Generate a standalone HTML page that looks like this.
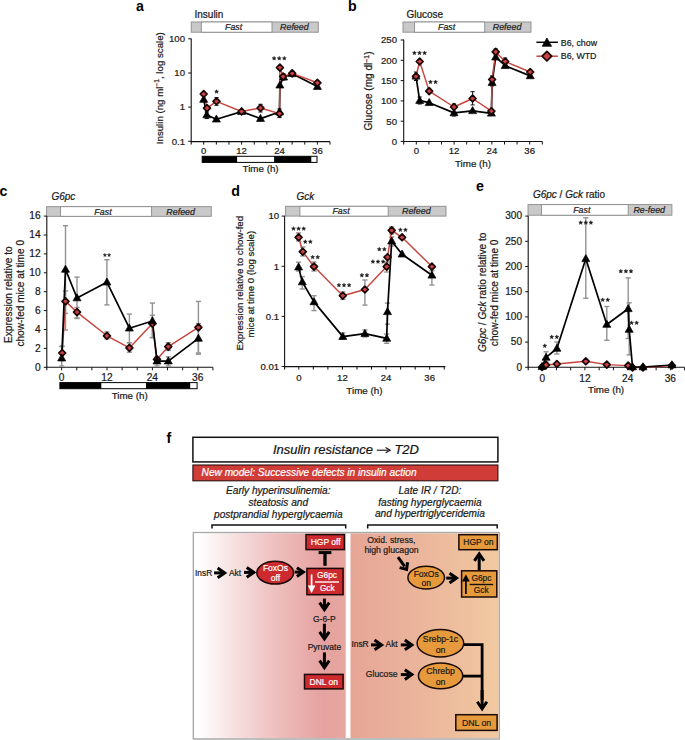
<!DOCTYPE html>
<html><head><meta charset="utf-8"><style>
html,body{margin:0;padding:0;background:#fff;}
svg{display:block;font-family:"Liberation Sans", sans-serif;}
</style></head><body>
<svg width="685" height="740" viewBox="0 0 685 740">
<rect width="685" height="740" fill="#fff"/>
<text x="136.10" y="10.70" font-size="14.2" text-anchor="start" font-style="normal" font-weight="bold" fill="#000" stroke="#000" stroke-width="0" >a</text>
<text x="194.50" y="18.30" font-size="10.0" text-anchor="start" font-style="normal" font-weight="normal" fill="#1a1a1a" stroke="#1a1a1a" stroke-width="0.22" >Insulin</text>
<rect x="191.20" y="22.00" width="127.10" height="10.20" fill="#c9c9c9" stroke="#8a8a8a" stroke-width="0.9" />
<rect x="201.30" y="22.00" width="70.70" height="10.20" fill="#ffffff" stroke="#8a8a8a" stroke-width="0.9" />
<text x="233.65" y="30.10" font-size="8.9" text-anchor="middle" font-style="italic" font-weight="normal" fill="#222" stroke="#222" stroke-width="0.22" >Fast</text>
<text x="294.35" y="30.10" font-size="8.9" text-anchor="middle" font-style="italic" font-weight="normal" fill="#222" stroke="#222" stroke-width="0.22" >Refeed</text>
<line x1="191.20" y1="38.40" x2="191.20" y2="144.60" stroke="#111" stroke-width="1.1" />
<line x1="190.70" y1="141.60" x2="330.00" y2="141.60" stroke="#111" stroke-width="1.1" />
<line x1="188.20" y1="38.80" x2="191.20" y2="38.80" stroke="#111" stroke-width="1.0" />
<text x="185.00" y="42.10" font-size="9.6" text-anchor="end" font-style="normal" font-weight="normal" fill="#1a1a1a" stroke="#1a1a1a" stroke-width="0.22" >100</text>
<line x1="188.20" y1="73.00" x2="191.20" y2="73.00" stroke="#111" stroke-width="1.0" />
<text x="185.00" y="76.30" font-size="9.6" text-anchor="end" font-style="normal" font-weight="normal" fill="#1a1a1a" stroke="#1a1a1a" stroke-width="0.22" >10</text>
<line x1="188.20" y1="107.10" x2="191.20" y2="107.10" stroke="#111" stroke-width="1.0" />
<text x="185.00" y="110.40" font-size="9.6" text-anchor="end" font-style="normal" font-weight="normal" fill="#1a1a1a" stroke="#1a1a1a" stroke-width="0.22" >1</text>
<line x1="188.20" y1="141.30" x2="191.20" y2="141.30" stroke="#111" stroke-width="1.0" />
<text x="185.00" y="144.60" font-size="9.6" text-anchor="end" font-style="normal" font-weight="normal" fill="#1a1a1a" stroke="#1a1a1a" stroke-width="0.22" >0.1</text>
<line x1="203.70" y1="141.60" x2="203.70" y2="144.60" stroke="#111" stroke-width="1.0" />
<text x="203.70" y="154.30" font-size="9.6" text-anchor="middle" font-style="normal" font-weight="normal" fill="#1a1a1a" stroke="#1a1a1a" stroke-width="0.22" >0</text>
<line x1="241.60" y1="141.60" x2="241.60" y2="144.60" stroke="#111" stroke-width="1.0" />
<text x="241.60" y="154.30" font-size="9.6" text-anchor="middle" font-style="normal" font-weight="normal" fill="#1a1a1a" stroke="#1a1a1a" stroke-width="0.22" >12</text>
<line x1="279.49" y1="141.60" x2="279.49" y2="144.60" stroke="#111" stroke-width="1.0" />
<text x="279.49" y="154.30" font-size="9.6" text-anchor="middle" font-style="normal" font-weight="normal" fill="#1a1a1a" stroke="#1a1a1a" stroke-width="0.22" >24</text>
<line x1="317.39" y1="141.60" x2="317.39" y2="144.60" stroke="#111" stroke-width="1.0" />
<text x="317.39" y="154.30" font-size="9.6" text-anchor="middle" font-style="normal" font-weight="normal" fill="#1a1a1a" stroke="#1a1a1a" stroke-width="0.22" >36</text>
<line x1="216.33" y1="141.60" x2="216.33" y2="144.60" stroke="#111" stroke-width="1.0" />
<line x1="228.96" y1="141.60" x2="228.96" y2="144.60" stroke="#111" stroke-width="1.0" />
<line x1="254.23" y1="141.60" x2="254.23" y2="144.60" stroke="#111" stroke-width="1.0" />
<line x1="266.86" y1="141.60" x2="266.86" y2="144.60" stroke="#111" stroke-width="1.0" />
<line x1="292.12" y1="141.60" x2="292.12" y2="144.60" stroke="#111" stroke-width="1.0" />
<line x1="304.76" y1="141.60" x2="304.76" y2="144.60" stroke="#111" stroke-width="1.0" />
<line x1="330.02" y1="141.60" x2="330.02" y2="144.60" stroke="#111" stroke-width="1.0" />
<rect x="202.20" y="156.30" width="114.80" height="6.10" fill="#fff" stroke="#000" stroke-width="1.0" />
<rect x="202.20" y="156.30" width="34.90" height="6.10" fill="#000" stroke="none" stroke-width="1.0" />
<rect x="274.10" y="156.30" width="37.20" height="6.10" fill="#000" stroke="none" stroke-width="1.0" />
<text x="260.60" y="172.30" font-size="9.8" text-anchor="middle" font-style="normal" font-weight="normal" fill="#1a1a1a" stroke="#1a1a1a" stroke-width="0.22" >Time (h)</text>
<text x="163.00" y="88.20" font-size="9.7" text-anchor="middle" font-style="normal" fill="#1a1a1a" stroke="#1a1a1a" stroke-width="0.22" transform="rotate(-90 163.00 88.20)">Insulin (ng ml<tspan font-size="6.6" dy="-3.6">−1</tspan><tspan dy="3.6">, log scale)</tspan></text>
<line x1="216.50" y1="97.60" x2="216.50" y2="105.30" stroke="#111" stroke-width="1.0" />
<line x1="214.40" y1="97.60" x2="218.60" y2="97.60" stroke="#111" stroke-width="1.0" />
<line x1="214.40" y1="105.30" x2="218.60" y2="105.30" stroke="#111" stroke-width="1.0" />
<line x1="260.50" y1="104.30" x2="260.50" y2="112.00" stroke="#111" stroke-width="1.0" />
<line x1="258.40" y1="104.30" x2="262.60" y2="104.30" stroke="#111" stroke-width="1.0" />
<line x1="258.40" y1="112.00" x2="262.60" y2="112.00" stroke="#111" stroke-width="1.0" />
<line x1="279.50" y1="109.00" x2="279.50" y2="117.60" stroke="#111" stroke-width="1.0" />
<line x1="277.40" y1="109.00" x2="281.60" y2="109.00" stroke="#111" stroke-width="1.0" />
<line x1="277.40" y1="117.60" x2="281.60" y2="117.60" stroke="#111" stroke-width="1.0" />
<line x1="283.60" y1="74.00" x2="283.60" y2="80.00" stroke="#111" stroke-width="1.0" />
<line x1="281.50" y1="74.00" x2="285.70" y2="74.00" stroke="#111" stroke-width="1.0" />
<line x1="281.50" y1="80.00" x2="285.70" y2="80.00" stroke="#111" stroke-width="1.0" />
<line x1="206.80" y1="112.00" x2="206.80" y2="118.60" stroke="#111" stroke-width="1.0" />
<line x1="204.70" y1="112.00" x2="208.90" y2="112.00" stroke="#111" stroke-width="1.0" />
<line x1="204.70" y1="118.60" x2="208.90" y2="118.60" stroke="#111" stroke-width="1.0" />
<line x1="292.20" y1="71.00" x2="292.20" y2="76.50" stroke="#111" stroke-width="1.0" />
<line x1="290.10" y1="71.00" x2="294.30" y2="71.00" stroke="#111" stroke-width="1.0" />
<line x1="290.10" y1="76.50" x2="294.30" y2="76.50" stroke="#111" stroke-width="1.0" />
<polyline points="203.70,99.50 206.80,115.00 216.40,119.20 241.60,111.60 260.50,118.60 279.50,112.00 279.90,85.20 283.60,77.20 292.20,73.80 317.40,86.60" fill="none" stroke="#000" stroke-width="1.7" stroke-linejoin="round"/>
<polyline points="203.70,94.00 207.00,108.10 216.50,101.30 241.60,111.50 260.50,108.00 279.50,113.60 279.90,67.60 283.10,76.50 292.20,73.40 317.40,82.80" fill="none" stroke="#c8453e" stroke-width="1.45" stroke-linejoin="round"/>
<path d="M203.70 95.28 L207.70 102.32 L199.70 102.32 Z" fill="#000" stroke="#000" stroke-width="0.7" stroke-linejoin="miter"/>
<path d="M206.80 110.78 L210.80 117.82 L202.80 117.82 Z" fill="#000" stroke="#000" stroke-width="0.7" stroke-linejoin="miter"/>
<path d="M216.40 114.98 L220.40 122.02 L212.40 122.02 Z" fill="#000" stroke="#000" stroke-width="0.7" stroke-linejoin="miter"/>
<path d="M241.60 107.38 L245.60 114.42 L237.60 114.42 Z" fill="#000" stroke="#000" stroke-width="0.7" stroke-linejoin="miter"/>
<path d="M260.50 114.38 L264.50 121.42 L256.50 121.42 Z" fill="#000" stroke="#000" stroke-width="0.7" stroke-linejoin="miter"/>
<path d="M279.50 107.78 L283.50 114.82 L275.50 114.82 Z" fill="#000" stroke="#000" stroke-width="0.7" stroke-linejoin="miter"/>
<path d="M279.90 80.98 L283.90 88.02 L275.90 88.02 Z" fill="#000" stroke="#000" stroke-width="0.7" stroke-linejoin="miter"/>
<path d="M283.60 72.98 L287.60 80.02 L279.60 80.02 Z" fill="#000" stroke="#000" stroke-width="0.7" stroke-linejoin="miter"/>
<path d="M292.20 69.58 L296.20 76.62 L288.20 76.62 Z" fill="#000" stroke="#000" stroke-width="0.7" stroke-linejoin="miter"/>
<path d="M317.40 82.38 L321.40 89.42 L313.40 89.42 Z" fill="#000" stroke="#000" stroke-width="0.7" stroke-linejoin="miter"/>
<path d="M203.70 90.55 L207.15 94.00 L203.70 97.45 L200.25 94.00 Z" fill="#cb4245" stroke="#1a0505" stroke-width="1.7" stroke-linejoin="round"/>
<path d="M207.00 104.65 L210.45 108.10 L207.00 111.55 L203.55 108.10 Z" fill="#cb4245" stroke="#1a0505" stroke-width="1.7" stroke-linejoin="round"/>
<path d="M216.50 97.85 L219.95 101.30 L216.50 104.75 L213.05 101.30 Z" fill="#cb4245" stroke="#1a0505" stroke-width="1.7" stroke-linejoin="round"/>
<path d="M241.60 108.05 L245.05 111.50 L241.60 114.95 L238.15 111.50 Z" fill="#cb4245" stroke="#1a0505" stroke-width="1.7" stroke-linejoin="round"/>
<path d="M260.50 104.55 L263.95 108.00 L260.50 111.45 L257.05 108.00 Z" fill="#cb4245" stroke="#1a0505" stroke-width="1.7" stroke-linejoin="round"/>
<path d="M279.50 110.15 L282.95 113.60 L279.50 117.05 L276.05 113.60 Z" fill="#cb4245" stroke="#1a0505" stroke-width="1.7" stroke-linejoin="round"/>
<path d="M279.90 64.15 L283.35 67.60 L279.90 71.05 L276.45 67.60 Z" fill="#cb4245" stroke="#1a0505" stroke-width="1.7" stroke-linejoin="round"/>
<path d="M283.10 73.05 L286.55 76.50 L283.10 79.95 L279.65 76.50 Z" fill="#cb4245" stroke="#1a0505" stroke-width="1.7" stroke-linejoin="round"/>
<path d="M292.20 69.95 L295.65 73.40 L292.20 76.85 L288.75 73.40 Z" fill="#cb4245" stroke="#1a0505" stroke-width="1.7" stroke-linejoin="round"/>
<path d="M317.40 79.35 L320.85 82.80 L317.40 86.25 L313.95 82.80 Z" fill="#cb4245" stroke="#1a0505" stroke-width="1.7" stroke-linejoin="round"/>
<path d="M216.60,89.65 L217.12,90.99 L218.55,91.07 L217.44,91.97 L217.80,93.36 L216.60,92.58 L215.40,93.36 L215.76,91.97 L214.65,91.07 L216.08,90.99 Z" fill="#1a1a1a" stroke="#1a1a1a" stroke-width="0.5" stroke-linejoin="round"/>
<path d="M274.10,56.35 L274.62,57.69 L276.05,57.77 L274.94,58.67 L275.30,60.06 L274.10,59.28 L272.90,60.06 L273.26,58.67 L272.15,57.77 L273.58,57.69 Z M279.20,56.35 L279.72,57.69 L281.15,57.77 L280.04,58.67 L280.40,60.06 L279.20,59.28 L278.00,60.06 L278.36,58.67 L277.25,57.77 L278.68,57.69 Z M284.30,56.35 L284.82,57.69 L286.25,57.77 L285.14,58.67 L285.50,60.06 L284.30,59.28 L283.10,60.06 L283.46,58.67 L282.35,57.77 L283.78,57.69 Z" fill="#1a1a1a" stroke="#1a1a1a" stroke-width="0.5" stroke-linejoin="round"/>
<text x="348.00" y="10.70" font-size="14.2" text-anchor="start" font-style="normal" font-weight="bold" fill="#000" stroke="#000" stroke-width="0" >b</text>
<text x="406.50" y="18.30" font-size="10.0" text-anchor="start" font-style="normal" font-weight="normal" fill="#1a1a1a" stroke="#1a1a1a" stroke-width="0.22" >Glucose</text>
<rect x="403.00" y="22.00" width="128.00" height="10.20" fill="#c9c9c9" stroke="#8a8a8a" stroke-width="0.9" />
<rect x="414.60" y="22.00" width="70.10" height="10.20" fill="#ffffff" stroke="#8a8a8a" stroke-width="0.9" />
<text x="446.65" y="30.10" font-size="8.9" text-anchor="middle" font-style="italic" font-weight="normal" fill="#222" stroke="#222" stroke-width="0.22" >Fast</text>
<text x="507.05" y="30.10" font-size="8.9" text-anchor="middle" font-style="italic" font-weight="normal" fill="#222" stroke="#222" stroke-width="0.22" >Refeed</text>
<line x1="403.70" y1="39.60" x2="403.70" y2="144.50" stroke="#111" stroke-width="1.1" />
<line x1="403.20" y1="141.50" x2="542.30" y2="141.50" stroke="#111" stroke-width="1.1" />
<line x1="400.70" y1="40.00" x2="403.70" y2="40.00" stroke="#111" stroke-width="1.0" />
<text x="397.00" y="43.30" font-size="9.6" text-anchor="end" font-style="normal" font-weight="normal" fill="#1a1a1a" stroke="#1a1a1a" stroke-width="0.22" >250</text>
<line x1="400.70" y1="60.30" x2="403.70" y2="60.30" stroke="#111" stroke-width="1.0" />
<text x="397.00" y="63.60" font-size="9.6" text-anchor="end" font-style="normal" font-weight="normal" fill="#1a1a1a" stroke="#1a1a1a" stroke-width="0.22" >200</text>
<line x1="400.70" y1="80.60" x2="403.70" y2="80.60" stroke="#111" stroke-width="1.0" />
<text x="397.00" y="83.90" font-size="9.6" text-anchor="end" font-style="normal" font-weight="normal" fill="#1a1a1a" stroke="#1a1a1a" stroke-width="0.22" >150</text>
<line x1="400.70" y1="100.90" x2="403.70" y2="100.90" stroke="#111" stroke-width="1.0" />
<text x="397.00" y="104.20" font-size="9.6" text-anchor="end" font-style="normal" font-weight="normal" fill="#1a1a1a" stroke="#1a1a1a" stroke-width="0.22" >100</text>
<line x1="400.70" y1="121.20" x2="403.70" y2="121.20" stroke="#111" stroke-width="1.0" />
<text x="397.00" y="124.50" font-size="9.6" text-anchor="end" font-style="normal" font-weight="normal" fill="#1a1a1a" stroke="#1a1a1a" stroke-width="0.22" >50</text>
<line x1="400.70" y1="141.40" x2="403.70" y2="141.40" stroke="#111" stroke-width="1.0" />
<text x="397.00" y="144.70" font-size="9.6" text-anchor="end" font-style="normal" font-weight="normal" fill="#1a1a1a" stroke="#1a1a1a" stroke-width="0.22" >0</text>
<line x1="416.30" y1="141.50" x2="416.30" y2="144.50" stroke="#111" stroke-width="1.0" />
<text x="416.30" y="154.30" font-size="9.6" text-anchor="middle" font-style="normal" font-weight="normal" fill="#1a1a1a" stroke="#1a1a1a" stroke-width="0.22" >0</text>
<line x1="454.10" y1="141.50" x2="454.10" y2="144.50" stroke="#111" stroke-width="1.0" />
<text x="454.10" y="154.30" font-size="9.6" text-anchor="middle" font-style="normal" font-weight="normal" fill="#1a1a1a" stroke="#1a1a1a" stroke-width="0.22" >12</text>
<line x1="491.90" y1="141.50" x2="491.90" y2="144.50" stroke="#111" stroke-width="1.0" />
<text x="491.90" y="154.30" font-size="9.6" text-anchor="middle" font-style="normal" font-weight="normal" fill="#1a1a1a" stroke="#1a1a1a" stroke-width="0.22" >24</text>
<line x1="529.70" y1="141.50" x2="529.70" y2="144.50" stroke="#111" stroke-width="1.0" />
<text x="529.70" y="154.30" font-size="9.6" text-anchor="middle" font-style="normal" font-weight="normal" fill="#1a1a1a" stroke="#1a1a1a" stroke-width="0.22" >36</text>
<line x1="428.90" y1="141.50" x2="428.90" y2="144.50" stroke="#111" stroke-width="1.0" />
<line x1="441.50" y1="141.50" x2="441.50" y2="144.50" stroke="#111" stroke-width="1.0" />
<line x1="466.70" y1="141.50" x2="466.70" y2="144.50" stroke="#111" stroke-width="1.0" />
<line x1="479.30" y1="141.50" x2="479.30" y2="144.50" stroke="#111" stroke-width="1.0" />
<line x1="504.50" y1="141.50" x2="504.50" y2="144.50" stroke="#111" stroke-width="1.0" />
<line x1="517.10" y1="141.50" x2="517.10" y2="144.50" stroke="#111" stroke-width="1.0" />
<line x1="542.30" y1="141.50" x2="542.30" y2="144.50" stroke="#111" stroke-width="1.0" />
<text x="473.00" y="167.10" font-size="9.8" text-anchor="middle" font-style="normal" font-weight="normal" fill="#1a1a1a" stroke="#1a1a1a" stroke-width="0.22" >Time (h)</text>
<text x="372.40" y="91.00" font-size="10.1" text-anchor="middle" font-style="normal" fill="#1a1a1a" stroke="#1a1a1a" stroke-width="0.22" transform="rotate(-90 372.40 91.00)">Glucose (mg dl<tspan font-size="6.8" dy="-3.7">−1</tspan><tspan dy="3.7">)</tspan></text>
<line x1="472.60" y1="91.70" x2="472.60" y2="104.90" stroke="#111" stroke-width="1.0" />
<line x1="470.50" y1="91.70" x2="474.70" y2="91.70" stroke="#111" stroke-width="1.0" />
<line x1="470.50" y1="104.90" x2="474.70" y2="104.90" stroke="#111" stroke-width="1.0" />
<line x1="419.70" y1="97.00" x2="419.70" y2="104.00" stroke="#111" stroke-width="1.0" />
<line x1="417.60" y1="97.00" x2="421.80" y2="97.00" stroke="#111" stroke-width="1.0" />
<line x1="417.60" y1="104.00" x2="421.80" y2="104.00" stroke="#111" stroke-width="1.0" />
<line x1="416.00" y1="72.00" x2="416.00" y2="80.50" stroke="#111" stroke-width="1.0" />
<line x1="413.90" y1="72.00" x2="418.10" y2="72.00" stroke="#111" stroke-width="1.0" />
<line x1="413.90" y1="80.50" x2="418.10" y2="80.50" stroke="#111" stroke-width="1.0" />
<line x1="454.00" y1="104.00" x2="454.00" y2="116.00" stroke="#111" stroke-width="1.0" />
<line x1="451.90" y1="104.00" x2="456.10" y2="104.00" stroke="#111" stroke-width="1.0" />
<line x1="451.90" y1="116.00" x2="456.10" y2="116.00" stroke="#111" stroke-width="1.0" />
<line x1="492.10" y1="76.00" x2="492.10" y2="86.00" stroke="#111" stroke-width="1.0" />
<line x1="490.00" y1="76.00" x2="494.20" y2="76.00" stroke="#111" stroke-width="1.0" />
<line x1="490.00" y1="86.00" x2="494.20" y2="86.00" stroke="#111" stroke-width="1.0" />
<line x1="495.70" y1="49.00" x2="495.70" y2="55.00" stroke="#111" stroke-width="1.0" />
<line x1="493.60" y1="49.00" x2="497.80" y2="49.00" stroke="#111" stroke-width="1.0" />
<line x1="493.60" y1="55.00" x2="497.80" y2="55.00" stroke="#111" stroke-width="1.0" />
<line x1="505.20" y1="58.00" x2="505.20" y2="64.00" stroke="#111" stroke-width="1.0" />
<line x1="503.10" y1="58.00" x2="507.30" y2="58.00" stroke="#111" stroke-width="1.0" />
<line x1="503.10" y1="64.00" x2="507.30" y2="64.00" stroke="#111" stroke-width="1.0" />
<polyline points="416.00,76.30 419.70,100.60 429.20,102.70 454.00,112.90 472.60,110.80 491.40,113.30 492.10,82.60 495.70,57.20 505.20,65.70 530.20,75.90" fill="none" stroke="#000" stroke-width="1.7" stroke-linejoin="round"/>
<polyline points="416.00,76.30 419.70,61.50 429.20,91.10 454.00,107.00 472.60,98.50 491.40,111.20 492.10,79.50 495.70,51.90 505.20,61.50 530.20,72.00" fill="none" stroke="#c8453e" stroke-width="1.45" stroke-linejoin="round"/>
<path d="M416.00 72.08 L420.00 79.12 L412.00 79.12 Z" fill="#000" stroke="#000" stroke-width="0.7" stroke-linejoin="miter"/>
<path d="M419.70 96.38 L423.70 103.42 L415.70 103.42 Z" fill="#000" stroke="#000" stroke-width="0.7" stroke-linejoin="miter"/>
<path d="M429.20 98.48 L433.20 105.52 L425.20 105.52 Z" fill="#000" stroke="#000" stroke-width="0.7" stroke-linejoin="miter"/>
<path d="M454.00 108.68 L458.00 115.72 L450.00 115.72 Z" fill="#000" stroke="#000" stroke-width="0.7" stroke-linejoin="miter"/>
<path d="M472.60 106.58 L476.60 113.62 L468.60 113.62 Z" fill="#000" stroke="#000" stroke-width="0.7" stroke-linejoin="miter"/>
<path d="M491.40 109.08 L495.40 116.12 L487.40 116.12 Z" fill="#000" stroke="#000" stroke-width="0.7" stroke-linejoin="miter"/>
<path d="M492.10 78.38 L496.10 85.42 L488.10 85.42 Z" fill="#000" stroke="#000" stroke-width="0.7" stroke-linejoin="miter"/>
<path d="M495.70 52.98 L499.70 60.02 L491.70 60.02 Z" fill="#000" stroke="#000" stroke-width="0.7" stroke-linejoin="miter"/>
<path d="M505.20 61.48 L509.20 68.52 L501.20 68.52 Z" fill="#000" stroke="#000" stroke-width="0.7" stroke-linejoin="miter"/>
<path d="M530.20 71.68 L534.20 78.72 L526.20 78.72 Z" fill="#000" stroke="#000" stroke-width="0.7" stroke-linejoin="miter"/>
<path d="M416.00 72.85 L419.45 76.30 L416.00 79.75 L412.55 76.30 Z" fill="#cb4245" stroke="#1a0505" stroke-width="1.7" stroke-linejoin="round"/>
<path d="M419.70 58.05 L423.15 61.50 L419.70 64.95 L416.25 61.50 Z" fill="#cb4245" stroke="#1a0505" stroke-width="1.7" stroke-linejoin="round"/>
<path d="M429.20 87.65 L432.65 91.10 L429.20 94.55 L425.75 91.10 Z" fill="#cb4245" stroke="#1a0505" stroke-width="1.7" stroke-linejoin="round"/>
<path d="M454.00 103.55 L457.45 107.00 L454.00 110.45 L450.55 107.00 Z" fill="#cb4245" stroke="#1a0505" stroke-width="1.7" stroke-linejoin="round"/>
<path d="M472.60 95.05 L476.05 98.50 L472.60 101.95 L469.15 98.50 Z" fill="#cb4245" stroke="#1a0505" stroke-width="1.7" stroke-linejoin="round"/>
<path d="M491.40 107.75 L494.85 111.20 L491.40 114.65 L487.95 111.20 Z" fill="#cb4245" stroke="#1a0505" stroke-width="1.7" stroke-linejoin="round"/>
<path d="M492.10 76.05 L495.55 79.50 L492.10 82.95 L488.65 79.50 Z" fill="#cb4245" stroke="#1a0505" stroke-width="1.7" stroke-linejoin="round"/>
<path d="M495.70 48.45 L499.15 51.90 L495.70 55.35 L492.25 51.90 Z" fill="#cb4245" stroke="#1a0505" stroke-width="1.7" stroke-linejoin="round"/>
<path d="M505.20 58.05 L508.65 61.50 L505.20 64.95 L501.75 61.50 Z" fill="#cb4245" stroke="#1a0505" stroke-width="1.7" stroke-linejoin="round"/>
<path d="M530.20 68.55 L533.65 72.00 L530.20 75.45 L526.75 72.00 Z" fill="#cb4245" stroke="#1a0505" stroke-width="1.7" stroke-linejoin="round"/>
<path d="M414.40,50.95 L414.92,52.29 L416.35,52.37 L415.24,53.27 L415.60,54.66 L414.40,53.88 L413.20,54.66 L413.56,53.27 L412.45,52.37 L413.88,52.29 Z M419.50,50.95 L420.02,52.29 L421.45,52.37 L420.34,53.27 L420.70,54.66 L419.50,53.88 L418.30,54.66 L418.66,53.27 L417.55,52.37 L418.98,52.29 Z M424.60,50.95 L425.12,52.29 L426.55,52.37 L425.44,53.27 L425.80,54.66 L424.60,53.88 L423.40,54.66 L423.76,53.27 L422.65,52.37 L424.08,52.29 Z" fill="#1a1a1a" stroke="#1a1a1a" stroke-width="0.5" stroke-linejoin="round"/>
<path d="M430.45,79.95 L430.97,81.29 L432.40,81.37 L431.29,82.27 L431.65,83.66 L430.45,82.88 L429.25,83.66 L429.61,82.27 L428.50,81.37 L429.93,81.29 Z M435.55,79.95 L436.07,81.29 L437.50,81.37 L436.39,82.27 L436.75,83.66 L435.55,82.88 L434.35,83.66 L434.71,82.27 L433.60,81.37 L435.03,81.29 Z" fill="#1a1a1a" stroke="#1a1a1a" stroke-width="0.5" stroke-linejoin="round"/>
<line x1="536.40" y1="42.30" x2="557.90" y2="42.30" stroke="#000" stroke-width="1.5" />
<path d="M546.90 37.98 L551.65 46.34 L542.15 46.34 Z" fill="#000" stroke="#000" stroke-width="0.7" stroke-linejoin="miter"/>
<text x="560.80" y="45.50" font-size="8.8" text-anchor="start" font-style="normal" font-weight="normal" fill="#1a1a1a" stroke="#1a1a1a" stroke-width="0.22" >B6, chow</text>
<line x1="536.40" y1="56.20" x2="557.90" y2="56.20" stroke="#c8453e" stroke-width="1.5" />
<path d="M546.90 51.40 L551.70 56.20 L546.90 61.00 L542.10 56.20 Z" fill="#cb4245" stroke="#1a0505" stroke-width="1.7" stroke-linejoin="round"/>
<text x="560.80" y="59.40" font-size="8.8" text-anchor="start" font-style="normal" font-weight="normal" fill="#1a1a1a" stroke="#1a1a1a" stroke-width="0.22" >B6, WTD</text>
<text x="-0.40" y="195.70" font-size="14.2" text-anchor="start" font-style="normal" font-weight="bold" fill="#000" stroke="#000" stroke-width="0" >c</text>
<text x="51.40" y="200.00" font-size="10.0" text-anchor="start" font-style="italic" font-weight="normal" fill="#1a1a1a" stroke="#1a1a1a" stroke-width="0.22" >G6pc</text>
<rect x="46.60" y="206.70" width="164.70" height="9.60" fill="#c9c9c9" stroke="#8a8a8a" stroke-width="0.9" />
<rect x="60.40" y="206.70" width="91.20" height="9.60" fill="#ffffff" stroke="#8a8a8a" stroke-width="0.9" />
<text x="103.00" y="214.50" font-size="8.9" text-anchor="middle" font-style="italic" font-weight="normal" fill="#222" stroke="#222" stroke-width="0.22" >Fast</text>
<text x="180.65" y="214.50" font-size="8.9" text-anchor="middle" font-style="italic" font-weight="normal" fill="#222" stroke="#222" stroke-width="0.22" >Refeed</text>
<line x1="46.80" y1="215.90" x2="46.80" y2="370.30" stroke="#111" stroke-width="1.1" />
<line x1="46.30" y1="367.30" x2="212.90" y2="367.30" stroke="#111" stroke-width="1.1" />
<line x1="43.80" y1="367.30" x2="46.80" y2="367.30" stroke="#111" stroke-width="1.0" />
<text x="40.60" y="370.60" font-size="10.2" text-anchor="end" font-style="normal" font-weight="normal" fill="#1a1a1a" stroke="#1a1a1a" stroke-width="0.22" >0</text>
<line x1="43.80" y1="348.40" x2="46.80" y2="348.40" stroke="#111" stroke-width="1.0" />
<text x="40.60" y="351.70" font-size="10.2" text-anchor="end" font-style="normal" font-weight="normal" fill="#1a1a1a" stroke="#1a1a1a" stroke-width="0.22" >2</text>
<line x1="43.80" y1="329.50" x2="46.80" y2="329.50" stroke="#111" stroke-width="1.0" />
<text x="40.60" y="332.80" font-size="10.2" text-anchor="end" font-style="normal" font-weight="normal" fill="#1a1a1a" stroke="#1a1a1a" stroke-width="0.22" >4</text>
<line x1="43.80" y1="310.60" x2="46.80" y2="310.60" stroke="#111" stroke-width="1.0" />
<text x="40.60" y="313.90" font-size="10.2" text-anchor="end" font-style="normal" font-weight="normal" fill="#1a1a1a" stroke="#1a1a1a" stroke-width="0.22" >6</text>
<line x1="43.80" y1="291.70" x2="46.80" y2="291.70" stroke="#111" stroke-width="1.0" />
<text x="40.60" y="295.00" font-size="10.2" text-anchor="end" font-style="normal" font-weight="normal" fill="#1a1a1a" stroke="#1a1a1a" stroke-width="0.22" >8</text>
<line x1="43.80" y1="272.80" x2="46.80" y2="272.80" stroke="#111" stroke-width="1.0" />
<text x="40.60" y="276.10" font-size="10.2" text-anchor="end" font-style="normal" font-weight="normal" fill="#1a1a1a" stroke="#1a1a1a" stroke-width="0.22" >10</text>
<line x1="43.80" y1="253.90" x2="46.80" y2="253.90" stroke="#111" stroke-width="1.0" />
<text x="40.60" y="257.20" font-size="10.2" text-anchor="end" font-style="normal" font-weight="normal" fill="#1a1a1a" stroke="#1a1a1a" stroke-width="0.22" >12</text>
<line x1="43.80" y1="235.00" x2="46.80" y2="235.00" stroke="#111" stroke-width="1.0" />
<text x="40.60" y="238.30" font-size="10.2" text-anchor="end" font-style="normal" font-weight="normal" fill="#1a1a1a" stroke="#1a1a1a" stroke-width="0.22" >14</text>
<line x1="43.80" y1="216.10" x2="46.80" y2="216.10" stroke="#111" stroke-width="1.0" />
<text x="40.60" y="219.40" font-size="10.2" text-anchor="end" font-style="normal" font-weight="normal" fill="#1a1a1a" stroke="#1a1a1a" stroke-width="0.22" >16</text>
<line x1="61.60" y1="367.30" x2="61.60" y2="370.30" stroke="#111" stroke-width="1.0" />
<text x="61.60" y="380.50" font-size="10.2" text-anchor="middle" font-style="normal" font-weight="normal" fill="#1a1a1a" stroke="#1a1a1a" stroke-width="0.22" >0</text>
<line x1="107.00" y1="367.30" x2="107.00" y2="370.30" stroke="#111" stroke-width="1.0" />
<text x="107.00" y="380.50" font-size="10.2" text-anchor="middle" font-style="normal" font-weight="normal" fill="#1a1a1a" stroke="#1a1a1a" stroke-width="0.22" >12</text>
<line x1="152.39" y1="367.30" x2="152.39" y2="370.30" stroke="#111" stroke-width="1.0" />
<text x="152.39" y="380.50" font-size="10.2" text-anchor="middle" font-style="normal" font-weight="normal" fill="#1a1a1a" stroke="#1a1a1a" stroke-width="0.22" >24</text>
<line x1="197.79" y1="367.30" x2="197.79" y2="370.30" stroke="#111" stroke-width="1.0" />
<text x="197.79" y="380.50" font-size="10.2" text-anchor="middle" font-style="normal" font-weight="normal" fill="#1a1a1a" stroke="#1a1a1a" stroke-width="0.22" >36</text>
<line x1="76.73" y1="367.30" x2="76.73" y2="370.30" stroke="#111" stroke-width="1.0" />
<line x1="91.86" y1="367.30" x2="91.86" y2="370.30" stroke="#111" stroke-width="1.0" />
<line x1="122.13" y1="367.30" x2="122.13" y2="370.30" stroke="#111" stroke-width="1.0" />
<line x1="137.26" y1="367.30" x2="137.26" y2="370.30" stroke="#111" stroke-width="1.0" />
<line x1="167.52" y1="367.30" x2="167.52" y2="370.30" stroke="#111" stroke-width="1.0" />
<line x1="182.66" y1="367.30" x2="182.66" y2="370.30" stroke="#111" stroke-width="1.0" />
<line x1="212.92" y1="367.30" x2="212.92" y2="370.30" stroke="#111" stroke-width="1.0" />
<rect x="59.90" y="382.60" width="137.20" height="6.10" fill="#fff" stroke="#000" stroke-width="1.0" />
<rect x="59.90" y="382.60" width="41.40" height="6.10" fill="#000" stroke="none" stroke-width="1.0" />
<rect x="146.00" y="382.60" width="44.20" height="6.10" fill="#000" stroke="none" stroke-width="1.0" />
<text x="129.70" y="398.60" font-size="9.8" text-anchor="middle" font-style="normal" font-weight="normal" fill="#1a1a1a" stroke="#1a1a1a" stroke-width="0.22" >Time (h)</text>
<text x="11.70" y="294.70" font-size="10.1" text-anchor="middle" font-style="normal" fill="#1a1a1a" stroke="#1a1a1a" stroke-width="0.22" transform="rotate(-90 11.70 294.70)">Expression relative to</text>
<text x="23.70" y="293.30" font-size="10.1" text-anchor="middle" font-style="normal" fill="#1a1a1a" stroke="#1a1a1a" stroke-width="0.22" transform="rotate(-90 23.70 293.30)">chow-fed mice at time 0</text>
<line x1="61.70" y1="346.60" x2="61.70" y2="366.00" stroke="#929292" stroke-width="1.4" />
<line x1="59.10" y1="346.60" x2="64.30" y2="346.60" stroke="#929292" stroke-width="1.4" />
<line x1="59.10" y1="366.00" x2="64.30" y2="366.00" stroke="#929292" stroke-width="1.4" />
<line x1="65.50" y1="225.70" x2="65.50" y2="330.00" stroke="#929292" stroke-width="1.4" />
<line x1="62.90" y1="225.70" x2="68.10" y2="225.70" stroke="#929292" stroke-width="1.4" />
<line x1="62.90" y1="330.00" x2="68.10" y2="330.00" stroke="#929292" stroke-width="1.4" />
<line x1="77.00" y1="277.10" x2="77.00" y2="318.50" stroke="#929292" stroke-width="1.4" />
<line x1="74.40" y1="277.10" x2="79.60" y2="277.10" stroke="#929292" stroke-width="1.4" />
<line x1="74.40" y1="318.50" x2="79.60" y2="318.50" stroke="#929292" stroke-width="1.4" />
<line x1="106.90" y1="259.70" x2="106.90" y2="304.90" stroke="#929292" stroke-width="1.4" />
<line x1="104.30" y1="259.70" x2="109.50" y2="259.70" stroke="#929292" stroke-width="1.4" />
<line x1="104.30" y1="304.90" x2="109.50" y2="304.90" stroke="#929292" stroke-width="1.4" />
<line x1="129.40" y1="314.10" x2="129.40" y2="342.70" stroke="#929292" stroke-width="1.4" />
<line x1="126.80" y1="314.10" x2="132.00" y2="314.10" stroke="#929292" stroke-width="1.4" />
<line x1="126.80" y1="342.70" x2="132.00" y2="342.70" stroke="#929292" stroke-width="1.4" />
<line x1="152.40" y1="303.10" x2="152.40" y2="337.60" stroke="#929292" stroke-width="1.4" />
<line x1="149.80" y1="303.10" x2="155.00" y2="303.10" stroke="#929292" stroke-width="1.4" />
<line x1="149.80" y1="337.60" x2="155.00" y2="337.60" stroke="#929292" stroke-width="1.4" />
<line x1="157.00" y1="356.80" x2="157.00" y2="366.00" stroke="#929292" stroke-width="1.4" />
<line x1="154.40" y1="356.80" x2="159.60" y2="356.80" stroke="#929292" stroke-width="1.4" />
<line x1="154.40" y1="366.00" x2="159.60" y2="366.00" stroke="#929292" stroke-width="1.4" />
<line x1="168.30" y1="356.80" x2="168.30" y2="366.00" stroke="#929292" stroke-width="1.4" />
<line x1="165.70" y1="356.80" x2="170.90" y2="356.80" stroke="#929292" stroke-width="1.4" />
<line x1="165.70" y1="366.00" x2="170.90" y2="366.00" stroke="#929292" stroke-width="1.4" />
<line x1="198.40" y1="301.40" x2="198.40" y2="354.20" stroke="#929292" stroke-width="1.4" />
<line x1="195.80" y1="301.40" x2="201.00" y2="301.40" stroke="#929292" stroke-width="1.4" />
<line x1="195.80" y1="354.20" x2="201.00" y2="354.20" stroke="#929292" stroke-width="1.4" />
<line x1="62.20" y1="346.00" x2="62.20" y2="360.60" stroke="#929292" stroke-width="1.4" />
<line x1="59.60" y1="346.00" x2="64.80" y2="346.00" stroke="#929292" stroke-width="1.4" />
<line x1="59.60" y1="360.60" x2="64.80" y2="360.60" stroke="#929292" stroke-width="1.4" />
<line x1="65.50" y1="290.90" x2="65.50" y2="313.40" stroke="#929292" stroke-width="1.4" />
<line x1="62.90" y1="290.90" x2="68.10" y2="290.90" stroke="#929292" stroke-width="1.4" />
<line x1="62.90" y1="313.40" x2="68.10" y2="313.40" stroke="#929292" stroke-width="1.4" />
<line x1="77.00" y1="307.50" x2="77.00" y2="318.00" stroke="#929292" stroke-width="1.4" />
<line x1="74.40" y1="307.50" x2="79.60" y2="307.50" stroke="#929292" stroke-width="1.4" />
<line x1="74.40" y1="318.00" x2="79.60" y2="318.00" stroke="#929292" stroke-width="1.4" />
<line x1="106.90" y1="332.00" x2="106.90" y2="338.90" stroke="#929292" stroke-width="1.4" />
<line x1="104.30" y1="332.00" x2="109.50" y2="332.00" stroke="#929292" stroke-width="1.4" />
<line x1="104.30" y1="338.90" x2="109.50" y2="338.90" stroke="#929292" stroke-width="1.4" />
<line x1="129.40" y1="342.70" x2="129.40" y2="352.20" stroke="#929292" stroke-width="1.4" />
<line x1="126.80" y1="342.70" x2="132.00" y2="342.70" stroke="#929292" stroke-width="1.4" />
<line x1="126.80" y1="352.20" x2="132.00" y2="352.20" stroke="#929292" stroke-width="1.4" />
<line x1="152.40" y1="315.20" x2="152.40" y2="337.60" stroke="#929292" stroke-width="1.4" />
<line x1="149.80" y1="315.20" x2="155.00" y2="315.20" stroke="#929292" stroke-width="1.4" />
<line x1="149.80" y1="337.60" x2="155.00" y2="337.60" stroke="#929292" stroke-width="1.4" />
<line x1="168.30" y1="342.70" x2="168.30" y2="350.40" stroke="#929292" stroke-width="1.4" />
<line x1="165.70" y1="342.70" x2="170.90" y2="342.70" stroke="#929292" stroke-width="1.4" />
<line x1="165.70" y1="350.40" x2="170.90" y2="350.40" stroke="#929292" stroke-width="1.4" />
<line x1="198.40" y1="323.60" x2="198.40" y2="353.00" stroke="#929292" stroke-width="1.4" />
<line x1="195.80" y1="323.60" x2="201.00" y2="323.60" stroke="#929292" stroke-width="1.4" />
<line x1="195.80" y1="353.00" x2="201.00" y2="353.00" stroke="#929292" stroke-width="1.4" />
<polyline points="62.20,353.00 65.50,301.40 77.00,312.10 106.90,335.80 129.40,347.90 152.40,323.60 157.00,359.40 168.30,346.60 198.40,327.40" fill="none" stroke="#c8453e" stroke-width="1.45" stroke-linejoin="round"/>
<polyline points="61.70,358.10 65.50,269.40 77.00,298.00 106.90,282.20 129.40,328.20 152.40,321.00 157.00,361.10 168.30,361.10 198.40,338.40" fill="none" stroke="#000" stroke-width="1.7" stroke-linejoin="round"/>
<path d="M62.20 349.55 L65.65 353.00 L62.20 356.45 L58.75 353.00 Z" fill="#cb4245" stroke="#1a0505" stroke-width="1.7" stroke-linejoin="round"/>
<path d="M65.50 297.95 L68.95 301.40 L65.50 304.85 L62.05 301.40 Z" fill="#cb4245" stroke="#1a0505" stroke-width="1.7" stroke-linejoin="round"/>
<path d="M77.00 308.65 L80.45 312.10 L77.00 315.55 L73.55 312.10 Z" fill="#cb4245" stroke="#1a0505" stroke-width="1.7" stroke-linejoin="round"/>
<path d="M106.90 332.35 L110.35 335.80 L106.90 339.25 L103.45 335.80 Z" fill="#cb4245" stroke="#1a0505" stroke-width="1.7" stroke-linejoin="round"/>
<path d="M129.40 344.45 L132.85 347.90 L129.40 351.35 L125.95 347.90 Z" fill="#cb4245" stroke="#1a0505" stroke-width="1.7" stroke-linejoin="round"/>
<path d="M152.40 320.15 L155.85 323.60 L152.40 327.05 L148.95 323.60 Z" fill="#cb4245" stroke="#1a0505" stroke-width="1.7" stroke-linejoin="round"/>
<path d="M157.00 355.95 L160.45 359.40 L157.00 362.85 L153.55 359.40 Z" fill="#cb4245" stroke="#1a0505" stroke-width="1.7" stroke-linejoin="round"/>
<path d="M168.30 343.15 L171.75 346.60 L168.30 350.05 L164.85 346.60 Z" fill="#cb4245" stroke="#1a0505" stroke-width="1.7" stroke-linejoin="round"/>
<path d="M198.40 323.95 L201.85 327.40 L198.40 330.85 L194.95 327.40 Z" fill="#cb4245" stroke="#1a0505" stroke-width="1.7" stroke-linejoin="round"/>
<path d="M61.70 353.88 L65.70 360.92 L57.70 360.92 Z" fill="#000" stroke="#000" stroke-width="0.7" stroke-linejoin="miter"/>
<path d="M65.50 265.18 L69.50 272.22 L61.50 272.22 Z" fill="#000" stroke="#000" stroke-width="0.7" stroke-linejoin="miter"/>
<path d="M77.00 293.78 L81.00 300.82 L73.00 300.82 Z" fill="#000" stroke="#000" stroke-width="0.7" stroke-linejoin="miter"/>
<path d="M106.90 277.98 L110.90 285.02 L102.90 285.02 Z" fill="#000" stroke="#000" stroke-width="0.7" stroke-linejoin="miter"/>
<path d="M129.40 323.98 L133.40 331.02 L125.40 331.02 Z" fill="#000" stroke="#000" stroke-width="0.7" stroke-linejoin="miter"/>
<path d="M152.40 316.78 L156.40 323.82 L148.40 323.82 Z" fill="#000" stroke="#000" stroke-width="0.7" stroke-linejoin="miter"/>
<path d="M157.00 356.88 L161.00 363.92 L153.00 363.92 Z" fill="#000" stroke="#000" stroke-width="0.7" stroke-linejoin="miter"/>
<path d="M168.30 356.88 L172.30 363.92 L164.30 363.92 Z" fill="#000" stroke="#000" stroke-width="0.7" stroke-linejoin="miter"/>
<path d="M198.40 334.18 L202.40 341.22 L194.40 341.22 Z" fill="#000" stroke="#000" stroke-width="0.7" stroke-linejoin="miter"/>
<path d="M104.90,253.40 L105.33,254.51 L106.52,254.57 L105.60,255.33 L105.90,256.48 L104.90,255.83 L103.90,256.48 L104.20,255.33 L103.28,254.57 L104.47,254.51 Z M109.10,253.40 L109.53,254.51 L110.72,254.57 L109.80,255.33 L110.10,256.48 L109.10,255.83 L108.10,256.48 L108.40,255.33 L107.48,254.57 L108.67,254.51 Z" fill="#1a1a1a" stroke="#1a1a1a" stroke-width="0.5" stroke-linejoin="round"/>
<text x="231.20" y="195.80" font-size="14.2" text-anchor="start" font-style="normal" font-weight="bold" fill="#000" stroke="#000" stroke-width="0" >d</text>
<text x="296.40" y="199.50" font-size="10.0" text-anchor="start" font-style="italic" font-weight="normal" fill="#1a1a1a" stroke="#1a1a1a" stroke-width="0.22" >Gck</text>
<rect x="285.60" y="206.30" width="160.40" height="9.80" fill="#c9c9c9" stroke="#8a8a8a" stroke-width="0.9" />
<rect x="299.90" y="206.30" width="88.30" height="9.80" fill="#ffffff" stroke="#8a8a8a" stroke-width="0.9" />
<text x="341.05" y="214.20" font-size="8.9" text-anchor="middle" font-style="italic" font-weight="normal" fill="#222" stroke="#222" stroke-width="0.22" >Fast</text>
<text x="416.30" y="214.20" font-size="8.9" text-anchor="middle" font-style="italic" font-weight="normal" fill="#222" stroke="#222" stroke-width="0.22" >Refeed</text>
<line x1="284.60" y1="215.70" x2="284.60" y2="369.60" stroke="#111" stroke-width="1.1" />
<line x1="284.10" y1="366.60" x2="445.40" y2="366.60" stroke="#111" stroke-width="1.1" />
<line x1="281.60" y1="216.10" x2="284.60" y2="216.10" stroke="#111" stroke-width="1.0" />
<text x="279.20" y="219.40" font-size="9.6" text-anchor="end" font-style="normal" font-weight="normal" fill="#1a1a1a" stroke="#1a1a1a" stroke-width="0.22" >10</text>
<line x1="281.60" y1="266.30" x2="284.60" y2="266.30" stroke="#111" stroke-width="1.0" />
<text x="279.20" y="269.60" font-size="9.6" text-anchor="end" font-style="normal" font-weight="normal" fill="#1a1a1a" stroke="#1a1a1a" stroke-width="0.22" >1</text>
<line x1="281.60" y1="316.40" x2="284.60" y2="316.40" stroke="#111" stroke-width="1.0" />
<text x="279.20" y="319.70" font-size="9.6" text-anchor="end" font-style="normal" font-weight="normal" fill="#1a1a1a" stroke="#1a1a1a" stroke-width="0.22" >0.1</text>
<line x1="281.60" y1="366.50" x2="284.60" y2="366.50" stroke="#111" stroke-width="1.0" />
<text x="279.20" y="369.80" font-size="9.6" text-anchor="end" font-style="normal" font-weight="normal" fill="#1a1a1a" stroke="#1a1a1a" stroke-width="0.22" >0.01</text>
<line x1="298.80" y1="366.60" x2="298.80" y2="369.60" stroke="#111" stroke-width="1.0" />
<text x="298.80" y="380.70" font-size="9.6" text-anchor="middle" font-style="normal" font-weight="normal" fill="#1a1a1a" stroke="#1a1a1a" stroke-width="0.22" >0</text>
<line x1="342.43" y1="366.60" x2="342.43" y2="369.60" stroke="#111" stroke-width="1.0" />
<text x="342.43" y="380.70" font-size="9.6" text-anchor="middle" font-style="normal" font-weight="normal" fill="#1a1a1a" stroke="#1a1a1a" stroke-width="0.22" >12</text>
<line x1="386.06" y1="366.60" x2="386.06" y2="369.60" stroke="#111" stroke-width="1.0" />
<text x="386.06" y="380.70" font-size="9.6" text-anchor="middle" font-style="normal" font-weight="normal" fill="#1a1a1a" stroke="#1a1a1a" stroke-width="0.22" >24</text>
<line x1="429.70" y1="366.60" x2="429.70" y2="369.60" stroke="#111" stroke-width="1.0" />
<text x="429.70" y="380.70" font-size="9.6" text-anchor="middle" font-style="normal" font-weight="normal" fill="#1a1a1a" stroke="#1a1a1a" stroke-width="0.22" >36</text>
<line x1="313.34" y1="366.60" x2="313.34" y2="369.60" stroke="#111" stroke-width="1.0" />
<line x1="327.89" y1="366.60" x2="327.89" y2="369.60" stroke="#111" stroke-width="1.0" />
<line x1="356.98" y1="366.60" x2="356.98" y2="369.60" stroke="#111" stroke-width="1.0" />
<line x1="371.52" y1="366.60" x2="371.52" y2="369.60" stroke="#111" stroke-width="1.0" />
<line x1="400.61" y1="366.60" x2="400.61" y2="369.60" stroke="#111" stroke-width="1.0" />
<line x1="415.15" y1="366.60" x2="415.15" y2="369.60" stroke="#111" stroke-width="1.0" />
<line x1="444.24" y1="366.60" x2="444.24" y2="369.60" stroke="#111" stroke-width="1.0" />
<text x="364.40" y="393.60" font-size="9.8" text-anchor="middle" font-style="normal" font-weight="normal" fill="#1a1a1a" stroke="#1a1a1a" stroke-width="0.22" >Time (h)</text>
<text x="243.00" y="283.20" font-size="9.7" text-anchor="middle" font-style="normal" fill="#1a1a1a" stroke="#1a1a1a" stroke-width="0.22" transform="rotate(-90 243.00 283.20)">Expression relative to chow-fed</text>
<text x="254.00" y="284.20" font-size="9.6" text-anchor="middle" font-style="normal" fill="#1a1a1a" stroke="#1a1a1a" stroke-width="0.22" transform="rotate(-90 254.00 284.20)">mice at time 0 (log scale)</text>
<line x1="298.60" y1="232.90" x2="298.60" y2="241.00" stroke="#929292" stroke-width="1.4" />
<line x1="296.00" y1="232.90" x2="301.20" y2="232.90" stroke="#929292" stroke-width="1.4" />
<line x1="296.00" y1="241.00" x2="301.20" y2="241.00" stroke="#929292" stroke-width="1.4" />
<line x1="302.80" y1="247.00" x2="302.80" y2="256.00" stroke="#929292" stroke-width="1.4" />
<line x1="300.20" y1="247.00" x2="305.40" y2="247.00" stroke="#929292" stroke-width="1.4" />
<line x1="300.20" y1="256.00" x2="305.40" y2="256.00" stroke="#929292" stroke-width="1.4" />
<line x1="314.00" y1="262.00" x2="314.00" y2="271.00" stroke="#929292" stroke-width="1.4" />
<line x1="311.40" y1="262.00" x2="316.60" y2="262.00" stroke="#929292" stroke-width="1.4" />
<line x1="311.40" y1="271.00" x2="316.60" y2="271.00" stroke="#929292" stroke-width="1.4" />
<line x1="342.80" y1="292.00" x2="342.80" y2="299.40" stroke="#929292" stroke-width="1.4" />
<line x1="340.20" y1="292.00" x2="345.40" y2="292.00" stroke="#929292" stroke-width="1.4" />
<line x1="340.20" y1="299.40" x2="345.40" y2="299.40" stroke="#929292" stroke-width="1.4" />
<line x1="364.90" y1="280.00" x2="364.90" y2="305.10" stroke="#929292" stroke-width="1.4" />
<line x1="362.30" y1="280.00" x2="367.50" y2="280.00" stroke="#929292" stroke-width="1.4" />
<line x1="362.30" y1="305.10" x2="367.50" y2="305.10" stroke="#929292" stroke-width="1.4" />
<line x1="386.70" y1="262.00" x2="386.70" y2="272.00" stroke="#929292" stroke-width="1.4" />
<line x1="384.10" y1="262.00" x2="389.30" y2="262.00" stroke="#929292" stroke-width="1.4" />
<line x1="384.10" y1="272.00" x2="389.30" y2="272.00" stroke="#929292" stroke-width="1.4" />
<line x1="391.70" y1="227.00" x2="391.70" y2="234.00" stroke="#929292" stroke-width="1.4" />
<line x1="389.10" y1="227.00" x2="394.30" y2="227.00" stroke="#929292" stroke-width="1.4" />
<line x1="389.10" y1="234.00" x2="394.30" y2="234.00" stroke="#929292" stroke-width="1.4" />
<line x1="298.60" y1="262.20" x2="298.60" y2="271.00" stroke="#929292" stroke-width="1.4" />
<line x1="296.00" y1="262.20" x2="301.20" y2="262.20" stroke="#929292" stroke-width="1.4" />
<line x1="296.00" y1="271.00" x2="301.20" y2="271.00" stroke="#929292" stroke-width="1.4" />
<line x1="302.30" y1="276.60" x2="302.30" y2="289.00" stroke="#929292" stroke-width="1.4" />
<line x1="299.70" y1="276.60" x2="304.90" y2="276.60" stroke="#929292" stroke-width="1.4" />
<line x1="299.70" y1="289.00" x2="304.90" y2="289.00" stroke="#929292" stroke-width="1.4" />
<line x1="314.00" y1="295.70" x2="314.00" y2="310.60" stroke="#929292" stroke-width="1.4" />
<line x1="311.40" y1="295.70" x2="316.60" y2="295.70" stroke="#929292" stroke-width="1.4" />
<line x1="311.40" y1="310.60" x2="316.60" y2="310.60" stroke="#929292" stroke-width="1.4" />
<line x1="342.80" y1="333.00" x2="342.80" y2="339.00" stroke="#929292" stroke-width="1.4" />
<line x1="340.20" y1="333.00" x2="345.40" y2="333.00" stroke="#929292" stroke-width="1.4" />
<line x1="340.20" y1="339.00" x2="345.40" y2="339.00" stroke="#929292" stroke-width="1.4" />
<line x1="364.90" y1="330.00" x2="364.90" y2="337.00" stroke="#929292" stroke-width="1.4" />
<line x1="362.30" y1="330.00" x2="367.50" y2="330.00" stroke="#929292" stroke-width="1.4" />
<line x1="362.30" y1="337.00" x2="367.50" y2="337.00" stroke="#929292" stroke-width="1.4" />
<line x1="386.70" y1="334.00" x2="386.70" y2="343.30" stroke="#929292" stroke-width="1.4" />
<line x1="384.10" y1="334.00" x2="389.30" y2="334.00" stroke="#929292" stroke-width="1.4" />
<line x1="384.10" y1="343.30" x2="389.30" y2="343.30" stroke="#929292" stroke-width="1.4" />
<line x1="387.50" y1="303.10" x2="387.50" y2="324.20" stroke="#929292" stroke-width="1.4" />
<line x1="384.90" y1="303.10" x2="390.10" y2="303.10" stroke="#929292" stroke-width="1.4" />
<line x1="384.90" y1="324.20" x2="390.10" y2="324.20" stroke="#929292" stroke-width="1.4" />
<line x1="391.70" y1="237.00" x2="391.70" y2="246.00" stroke="#929292" stroke-width="1.4" />
<line x1="389.10" y1="237.00" x2="394.30" y2="237.00" stroke="#929292" stroke-width="1.4" />
<line x1="389.10" y1="246.00" x2="394.30" y2="246.00" stroke="#929292" stroke-width="1.4" />
<line x1="431.90" y1="270.80" x2="431.90" y2="285.00" stroke="#929292" stroke-width="1.4" />
<line x1="429.30" y1="270.80" x2="434.50" y2="270.80" stroke="#929292" stroke-width="1.4" />
<line x1="429.30" y1="285.00" x2="434.50" y2="285.00" stroke="#929292" stroke-width="1.4" />
<polyline points="298.60,237.30 302.80,251.70 314.00,266.60 342.80,295.70 364.90,289.50 386.70,266.60 387.50,257.20 391.70,230.40 402.10,237.30 431.90,266.60" fill="none" stroke="#c8453e" stroke-width="1.45" stroke-linejoin="round"/>
<polyline points="298.60,267.10 302.30,282.00 314.00,301.90 342.80,336.60 364.90,333.60 386.70,338.40 387.50,311.80 391.70,241.10 402.10,254.20 431.90,275.30" fill="none" stroke="#000" stroke-width="1.7" stroke-linejoin="round"/>
<path d="M298.60 233.85 L302.05 237.30 L298.60 240.75 L295.15 237.30 Z" fill="#cb4245" stroke="#1a0505" stroke-width="1.7" stroke-linejoin="round"/>
<path d="M302.80 248.25 L306.25 251.70 L302.80 255.15 L299.35 251.70 Z" fill="#cb4245" stroke="#1a0505" stroke-width="1.7" stroke-linejoin="round"/>
<path d="M314.00 263.15 L317.45 266.60 L314.00 270.05 L310.55 266.60 Z" fill="#cb4245" stroke="#1a0505" stroke-width="1.7" stroke-linejoin="round"/>
<path d="M342.80 292.25 L346.25 295.70 L342.80 299.15 L339.35 295.70 Z" fill="#cb4245" stroke="#1a0505" stroke-width="1.7" stroke-linejoin="round"/>
<path d="M364.90 286.05 L368.35 289.50 L364.90 292.95 L361.45 289.50 Z" fill="#cb4245" stroke="#1a0505" stroke-width="1.7" stroke-linejoin="round"/>
<path d="M386.70 263.15 L390.15 266.60 L386.70 270.05 L383.25 266.60 Z" fill="#cb4245" stroke="#1a0505" stroke-width="1.7" stroke-linejoin="round"/>
<path d="M387.50 253.75 L390.95 257.20 L387.50 260.65 L384.05 257.20 Z" fill="#cb4245" stroke="#1a0505" stroke-width="1.7" stroke-linejoin="round"/>
<path d="M391.70 226.95 L395.15 230.40 L391.70 233.85 L388.25 230.40 Z" fill="#cb4245" stroke="#1a0505" stroke-width="1.7" stroke-linejoin="round"/>
<path d="M402.10 233.85 L405.55 237.30 L402.10 240.75 L398.65 237.30 Z" fill="#cb4245" stroke="#1a0505" stroke-width="1.7" stroke-linejoin="round"/>
<path d="M431.90 263.15 L435.35 266.60 L431.90 270.05 L428.45 266.60 Z" fill="#cb4245" stroke="#1a0505" stroke-width="1.7" stroke-linejoin="round"/>
<path d="M298.60 262.88 L302.60 269.92 L294.60 269.92 Z" fill="#000" stroke="#000" stroke-width="0.7" stroke-linejoin="miter"/>
<path d="M302.30 277.78 L306.30 284.82 L298.30 284.82 Z" fill="#000" stroke="#000" stroke-width="0.7" stroke-linejoin="miter"/>
<path d="M314.00 297.68 L318.00 304.72 L310.00 304.72 Z" fill="#000" stroke="#000" stroke-width="0.7" stroke-linejoin="miter"/>
<path d="M342.80 332.38 L346.80 339.42 L338.80 339.42 Z" fill="#000" stroke="#000" stroke-width="0.7" stroke-linejoin="miter"/>
<path d="M364.90 329.38 L368.90 336.42 L360.90 336.42 Z" fill="#000" stroke="#000" stroke-width="0.7" stroke-linejoin="miter"/>
<path d="M386.70 334.18 L390.70 341.22 L382.70 341.22 Z" fill="#000" stroke="#000" stroke-width="0.7" stroke-linejoin="miter"/>
<path d="M387.50 307.58 L391.50 314.62 L383.50 314.62 Z" fill="#000" stroke="#000" stroke-width="0.7" stroke-linejoin="miter"/>
<path d="M391.70 236.88 L395.70 243.92 L387.70 243.92 Z" fill="#000" stroke="#000" stroke-width="0.7" stroke-linejoin="miter"/>
<path d="M402.10 249.98 L406.10 257.02 L398.10 257.02 Z" fill="#000" stroke="#000" stroke-width="0.7" stroke-linejoin="miter"/>
<path d="M431.90 271.08 L435.90 278.12 L427.90 278.12 Z" fill="#000" stroke="#000" stroke-width="0.7" stroke-linejoin="miter"/>
<path d="M293.50,226.65 L294.02,227.99 L295.45,228.07 L294.34,228.97 L294.70,230.36 L293.50,229.58 L292.30,230.36 L292.66,228.97 L291.55,228.07 L292.98,227.99 Z M298.60,226.65 L299.12,227.99 L300.55,228.07 L299.44,228.97 L299.80,230.36 L298.60,229.58 L297.40,230.36 L297.76,228.97 L296.65,228.07 L298.08,227.99 Z M303.70,226.65 L304.22,227.99 L305.65,228.07 L304.54,228.97 L304.90,230.36 L303.70,229.58 L302.50,230.36 L302.86,228.97 L301.75,228.07 L303.18,227.99 Z" fill="#1a1a1a" stroke="#1a1a1a" stroke-width="0.5" stroke-linejoin="round"/>
<path d="M305.25,239.75 L305.77,241.09 L307.20,241.17 L306.09,242.07 L306.45,243.46 L305.25,242.68 L304.05,243.46 L304.41,242.07 L303.30,241.17 L304.73,241.09 Z M310.35,239.75 L310.87,241.09 L312.30,241.17 L311.19,242.07 L311.55,243.46 L310.35,242.68 L309.15,243.46 L309.51,242.07 L308.40,241.17 L309.83,241.09 Z" fill="#1a1a1a" stroke="#1a1a1a" stroke-width="0.5" stroke-linejoin="round"/>
<path d="M312.65,255.15 L313.17,256.49 L314.60,256.57 L313.49,257.47 L313.85,258.86 L312.65,258.08 L311.45,258.86 L311.81,257.47 L310.70,256.57 L312.13,256.49 Z M317.75,255.15 L318.27,256.49 L319.70,256.57 L318.59,257.47 L318.95,258.86 L317.75,258.08 L316.55,258.86 L316.91,257.47 L315.80,256.57 L317.23,256.49 Z" fill="#1a1a1a" stroke="#1a1a1a" stroke-width="0.5" stroke-linejoin="round"/>
<path d="M338.90,283.15 L339.42,284.49 L340.85,284.57 L339.74,285.47 L340.10,286.86 L338.90,286.08 L337.70,286.86 L338.06,285.47 L336.95,284.57 L338.38,284.49 Z M344.00,283.15 L344.52,284.49 L345.95,284.57 L344.84,285.47 L345.20,286.86 L344.00,286.08 L342.80,286.86 L343.16,285.47 L342.05,284.57 L343.48,284.49 Z M349.10,283.15 L349.62,284.49 L351.05,284.57 L349.94,285.47 L350.30,286.86 L349.10,286.08 L347.90,286.86 L348.26,285.47 L347.15,284.57 L348.58,284.49 Z" fill="#1a1a1a" stroke="#1a1a1a" stroke-width="0.5" stroke-linejoin="round"/>
<path d="M361.85,273.25 L362.37,274.59 L363.80,274.67 L362.69,275.57 L363.05,276.96 L361.85,276.18 L360.65,276.96 L361.01,275.57 L359.90,274.67 L361.33,274.59 Z M366.95,273.25 L367.47,274.59 L368.90,274.67 L367.79,275.57 L368.15,276.96 L366.95,276.18 L365.75,276.96 L366.11,275.57 L365.00,274.67 L366.43,274.59 Z" fill="#1a1a1a" stroke="#1a1a1a" stroke-width="0.5" stroke-linejoin="round"/>
<path d="M379.25,247.25 L379.77,248.59 L381.20,248.67 L380.09,249.57 L380.45,250.96 L379.25,250.18 L378.05,250.96 L378.41,249.57 L377.30,248.67 L378.73,248.59 Z M384.35,247.25 L384.87,248.59 L386.30,248.67 L385.19,249.57 L385.55,250.96 L384.35,250.18 L383.15,250.96 L383.51,249.57 L382.40,248.67 L383.83,248.59 Z" fill="#1a1a1a" stroke="#1a1a1a" stroke-width="0.5" stroke-linejoin="round"/>
<path d="M372.90,259.65 L373.42,260.99 L374.85,261.07 L373.74,261.97 L374.10,263.36 L372.90,262.58 L371.70,263.36 L372.06,261.97 L370.95,261.07 L372.38,260.99 Z M378.00,259.65 L378.52,260.99 L379.95,261.07 L378.84,261.97 L379.20,263.36 L378.00,262.58 L376.80,263.36 L377.16,261.97 L376.05,261.07 L377.48,260.99 Z M383.10,259.65 L383.62,260.99 L385.05,261.07 L383.94,261.97 L384.30,263.36 L383.10,262.58 L381.90,263.36 L382.26,261.97 L381.15,261.07 L382.58,260.99 Z" fill="#1a1a1a" stroke="#1a1a1a" stroke-width="0.5" stroke-linejoin="round"/>
<path d="M400.35,227.85 L400.87,229.19 L402.30,229.27 L401.19,230.17 L401.55,231.56 L400.35,230.78 L399.15,231.56 L399.51,230.17 L398.40,229.27 L399.83,229.19 Z M405.45,227.85 L405.97,229.19 L407.40,229.27 L406.29,230.17 L406.65,231.56 L405.45,230.78 L404.25,231.56 L404.61,230.17 L403.50,229.27 L404.93,229.19 Z" fill="#1a1a1a" stroke="#1a1a1a" stroke-width="0.5" stroke-linejoin="round"/>
<text x="476.00" y="190.50" font-size="14.2" text-anchor="start" font-style="normal" font-weight="bold" fill="#000" stroke="#000" stroke-width="0" >e</text>
<text x="532.90" y="198.00" font-size="10.0" text-anchor="start" font-style="normal" font-weight="normal" fill="#1a1a1a" stroke="#1a1a1a" stroke-width="0.22" ><tspan font-style="italic">G6pc</tspan> / <tspan font-style="italic">Gck</tspan> ratio</text>
<rect x="528.00" y="204.60" width="143.90" height="10.60" fill="#c9c9c9" stroke="#8a8a8a" stroke-width="0.9" />
<rect x="541.50" y="204.60" width="86.70" height="10.60" fill="#ffffff" stroke="#8a8a8a" stroke-width="0.9" />
<text x="581.85" y="212.90" font-size="8.9" text-anchor="middle" font-style="italic" font-weight="normal" fill="#222" stroke="#222" stroke-width="0.22" >Fast</text>
<text x="649.25" y="212.90" font-size="8.9" text-anchor="middle" font-style="italic" font-weight="normal" fill="#222" stroke="#222" stroke-width="0.22" >Re-feed</text>
<line x1="528.20" y1="215.70" x2="528.20" y2="370.30" stroke="#111" stroke-width="1.1" />
<line x1="527.70" y1="367.30" x2="684.60" y2="367.30" stroke="#111" stroke-width="1.1" />
<line x1="525.20" y1="367.30" x2="528.20" y2="367.30" stroke="#111" stroke-width="1.0" />
<text x="522.00" y="370.60" font-size="10.1" text-anchor="end" font-style="normal" font-weight="normal" fill="#1a1a1a" stroke="#1a1a1a" stroke-width="0.22" >0</text>
<line x1="525.20" y1="342.10" x2="528.20" y2="342.10" stroke="#111" stroke-width="1.0" />
<text x="522.00" y="345.40" font-size="10.1" text-anchor="end" font-style="normal" font-weight="normal" fill="#1a1a1a" stroke="#1a1a1a" stroke-width="0.22" >50</text>
<line x1="525.20" y1="316.90" x2="528.20" y2="316.90" stroke="#111" stroke-width="1.0" />
<text x="522.00" y="320.20" font-size="10.1" text-anchor="end" font-style="normal" font-weight="normal" fill="#1a1a1a" stroke="#1a1a1a" stroke-width="0.22" >100</text>
<line x1="525.20" y1="291.70" x2="528.20" y2="291.70" stroke="#111" stroke-width="1.0" />
<text x="522.00" y="295.00" font-size="10.1" text-anchor="end" font-style="normal" font-weight="normal" fill="#1a1a1a" stroke="#1a1a1a" stroke-width="0.22" >150</text>
<line x1="525.20" y1="266.50" x2="528.20" y2="266.50" stroke="#111" stroke-width="1.0" />
<text x="522.00" y="269.80" font-size="10.1" text-anchor="end" font-style="normal" font-weight="normal" fill="#1a1a1a" stroke="#1a1a1a" stroke-width="0.22" >200</text>
<line x1="525.20" y1="241.30" x2="528.20" y2="241.30" stroke="#111" stroke-width="1.0" />
<text x="522.00" y="244.60" font-size="10.1" text-anchor="end" font-style="normal" font-weight="normal" fill="#1a1a1a" stroke="#1a1a1a" stroke-width="0.22" >250</text>
<line x1="525.20" y1="216.10" x2="528.20" y2="216.10" stroke="#111" stroke-width="1.0" />
<text x="522.00" y="219.40" font-size="10.1" text-anchor="end" font-style="normal" font-weight="normal" fill="#1a1a1a" stroke="#1a1a1a" stroke-width="0.22" >300</text>
<line x1="542.20" y1="367.30" x2="542.20" y2="370.30" stroke="#111" stroke-width="1.0" />
<text x="542.20" y="381.90" font-size="10.1" text-anchor="middle" font-style="normal" font-weight="normal" fill="#1a1a1a" stroke="#1a1a1a" stroke-width="0.22" >0</text>
<line x1="584.92" y1="367.30" x2="584.92" y2="370.30" stroke="#111" stroke-width="1.0" />
<text x="584.92" y="381.90" font-size="10.1" text-anchor="middle" font-style="normal" font-weight="normal" fill="#1a1a1a" stroke="#1a1a1a" stroke-width="0.22" >12</text>
<line x1="627.64" y1="367.30" x2="627.64" y2="370.30" stroke="#111" stroke-width="1.0" />
<text x="627.64" y="381.90" font-size="10.1" text-anchor="middle" font-style="normal" font-weight="normal" fill="#1a1a1a" stroke="#1a1a1a" stroke-width="0.22" >24</text>
<line x1="670.36" y1="367.30" x2="670.36" y2="370.30" stroke="#111" stroke-width="1.0" />
<text x="670.36" y="381.90" font-size="10.1" text-anchor="middle" font-style="normal" font-weight="normal" fill="#1a1a1a" stroke="#1a1a1a" stroke-width="0.22" >36</text>
<line x1="556.44" y1="367.30" x2="556.44" y2="370.30" stroke="#111" stroke-width="1.0" />
<line x1="570.68" y1="367.30" x2="570.68" y2="370.30" stroke="#111" stroke-width="1.0" />
<line x1="599.16" y1="367.30" x2="599.16" y2="370.30" stroke="#111" stroke-width="1.0" />
<line x1="613.40" y1="367.30" x2="613.40" y2="370.30" stroke="#111" stroke-width="1.0" />
<line x1="641.88" y1="367.30" x2="641.88" y2="370.30" stroke="#111" stroke-width="1.0" />
<line x1="656.12" y1="367.30" x2="656.12" y2="370.30" stroke="#111" stroke-width="1.0" />
<line x1="684.60" y1="367.30" x2="684.60" y2="370.30" stroke="#111" stroke-width="1.0" />
<text x="606.10" y="393.40" font-size="9.8" text-anchor="middle" font-style="normal" font-weight="normal" fill="#1a1a1a" stroke="#1a1a1a" stroke-width="0.22" >Time (h)</text>
<text x="485.70" y="292.30" font-size="10.1" text-anchor="middle" font-style="normal" fill="#1a1a1a" stroke="#1a1a1a" stroke-width="0.22" transform="rotate(-90 485.70 292.30)"><tspan font-style="italic">G6pc</tspan> / <tspan font-style="italic">Gck</tspan> ratio relative to</text>
<text x="498.00" y="292.85" font-size="10.1" text-anchor="middle" font-style="normal" fill="#1a1a1a" stroke="#1a1a1a" stroke-width="0.22" transform="rotate(-90 498.00 292.85)">chow-fed mice at time 0</text>
<line x1="585.80" y1="217.80" x2="585.80" y2="298.30" stroke="#929292" stroke-width="1.4" />
<line x1="583.20" y1="217.80" x2="588.40" y2="217.80" stroke="#929292" stroke-width="1.4" />
<line x1="583.20" y1="298.30" x2="588.40" y2="298.30" stroke="#929292" stroke-width="1.4" />
<line x1="606.80" y1="306.50" x2="606.80" y2="340.30" stroke="#929292" stroke-width="1.4" />
<line x1="604.20" y1="306.50" x2="609.40" y2="306.50" stroke="#929292" stroke-width="1.4" />
<line x1="604.20" y1="340.30" x2="609.40" y2="340.30" stroke="#929292" stroke-width="1.4" />
<line x1="628.20" y1="277.90" x2="628.20" y2="338.50" stroke="#929292" stroke-width="1.4" />
<line x1="625.60" y1="277.90" x2="630.80" y2="277.90" stroke="#929292" stroke-width="1.4" />
<line x1="625.60" y1="338.50" x2="630.80" y2="338.50" stroke="#929292" stroke-width="1.4" />
<line x1="629.20" y1="302.80" x2="629.20" y2="354.90" stroke="#929292" stroke-width="1.4" />
<line x1="626.60" y1="302.80" x2="631.80" y2="302.80" stroke="#929292" stroke-width="1.4" />
<line x1="626.60" y1="354.90" x2="631.80" y2="354.90" stroke="#929292" stroke-width="1.4" />
<line x1="556.90" y1="342.00" x2="556.90" y2="354.00" stroke="#929292" stroke-width="1.4" />
<line x1="554.30" y1="342.00" x2="559.50" y2="342.00" stroke="#929292" stroke-width="1.4" />
<line x1="554.30" y1="354.00" x2="559.50" y2="354.00" stroke="#929292" stroke-width="1.4" />
<line x1="546.10" y1="351.80" x2="546.10" y2="362.00" stroke="#929292" stroke-width="1.4" />
<line x1="543.50" y1="351.80" x2="548.70" y2="351.80" stroke="#929292" stroke-width="1.4" />
<line x1="543.50" y1="362.00" x2="548.70" y2="362.00" stroke="#929292" stroke-width="1.4" />
<polyline points="542.10,367.00 546.10,365.00 556.90,364.00 585.80,361.30 606.80,364.60 628.20,365.60 632.50,367.50 643.00,367.50 671.90,365.50" fill="none" stroke="#c8453e" stroke-width="1.45" stroke-linejoin="round"/>
<polyline points="542.10,366.60 546.10,357.40 556.90,348.50 585.80,258.80 606.80,324.50 628.20,308.80 629.20,329.50 632.50,367.00 643.00,367.00 671.90,365.00" fill="none" stroke="#000" stroke-width="1.7" stroke-linejoin="round"/>
<path d="M542.10 363.55 L545.55 367.00 L542.10 370.45 L538.65 367.00 Z" fill="#cb4245" stroke="#1a0505" stroke-width="1.7" stroke-linejoin="round"/>
<path d="M546.10 361.55 L549.55 365.00 L546.10 368.45 L542.65 365.00 Z" fill="#cb4245" stroke="#1a0505" stroke-width="1.7" stroke-linejoin="round"/>
<path d="M556.90 360.55 L560.35 364.00 L556.90 367.45 L553.45 364.00 Z" fill="#cb4245" stroke="#1a0505" stroke-width="1.7" stroke-linejoin="round"/>
<path d="M585.80 357.85 L589.25 361.30 L585.80 364.75 L582.35 361.30 Z" fill="#cb4245" stroke="#1a0505" stroke-width="1.7" stroke-linejoin="round"/>
<path d="M606.80 361.15 L610.25 364.60 L606.80 368.05 L603.35 364.60 Z" fill="#cb4245" stroke="#1a0505" stroke-width="1.7" stroke-linejoin="round"/>
<path d="M628.20 362.15 L631.65 365.60 L628.20 369.05 L624.75 365.60 Z" fill="#cb4245" stroke="#1a0505" stroke-width="1.7" stroke-linejoin="round"/>
<path d="M632.50 364.05 L635.95 367.50 L632.50 370.95 L629.05 367.50 Z" fill="#cb4245" stroke="#1a0505" stroke-width="1.7" stroke-linejoin="round"/>
<path d="M643.00 364.05 L646.45 367.50 L643.00 370.95 L639.55 367.50 Z" fill="#cb4245" stroke="#1a0505" stroke-width="1.7" stroke-linejoin="round"/>
<path d="M671.90 362.05 L675.35 365.50 L671.90 368.95 L668.45 365.50 Z" fill="#cb4245" stroke="#1a0505" stroke-width="1.7" stroke-linejoin="round"/>
<path d="M542.10 362.38 L546.10 369.42 L538.10 369.42 Z" fill="#000" stroke="#000" stroke-width="0.7" stroke-linejoin="miter"/>
<path d="M546.10 353.18 L550.10 360.22 L542.10 360.22 Z" fill="#000" stroke="#000" stroke-width="0.7" stroke-linejoin="miter"/>
<path d="M556.90 344.28 L560.90 351.32 L552.90 351.32 Z" fill="#000" stroke="#000" stroke-width="0.7" stroke-linejoin="miter"/>
<path d="M585.80 254.58 L589.80 261.62 L581.80 261.62 Z" fill="#000" stroke="#000" stroke-width="0.7" stroke-linejoin="miter"/>
<path d="M606.80 320.28 L610.80 327.32 L602.80 327.32 Z" fill="#000" stroke="#000" stroke-width="0.7" stroke-linejoin="miter"/>
<path d="M628.20 304.58 L632.20 311.62 L624.20 311.62 Z" fill="#000" stroke="#000" stroke-width="0.7" stroke-linejoin="miter"/>
<path d="M629.20 325.28 L633.20 332.32 L625.20 332.32 Z" fill="#000" stroke="#000" stroke-width="0.7" stroke-linejoin="miter"/>
<path d="M632.50 362.78 L636.50 369.82 L628.50 369.82 Z" fill="#000" stroke="#000" stroke-width="0.7" stroke-linejoin="miter"/>
<path d="M643.00 362.78 L647.00 369.82 L639.00 369.82 Z" fill="#000" stroke="#000" stroke-width="0.7" stroke-linejoin="miter"/>
<path d="M671.90 360.78 L675.90 367.82 L667.90 367.82 Z" fill="#000" stroke="#000" stroke-width="0.7" stroke-linejoin="miter"/>
<path d="M544.80,343.85 L545.32,345.19 L546.75,345.27 L545.64,346.17 L546.00,347.56 L544.80,346.78 L543.60,347.56 L543.96,346.17 L542.85,345.27 L544.28,345.19 Z" fill="#1a1a1a" stroke="#1a1a1a" stroke-width="0.5" stroke-linejoin="round"/>
<path d="M551.75,334.95 L552.27,336.29 L553.70,336.37 L552.59,337.27 L552.95,338.66 L551.75,337.88 L550.55,338.66 L550.91,337.27 L549.80,336.37 L551.23,336.29 Z M556.85,334.95 L557.37,336.29 L558.80,336.37 L557.69,337.27 L558.05,338.66 L556.85,337.88 L555.65,338.66 L556.01,337.27 L554.90,336.37 L556.33,336.29 Z" fill="#1a1a1a" stroke="#1a1a1a" stroke-width="0.5" stroke-linejoin="round"/>
<path d="M580.70,220.65 L581.22,221.99 L582.65,222.07 L581.54,222.97 L581.90,224.36 L580.70,223.58 L579.50,224.36 L579.86,222.97 L578.75,222.07 L580.18,221.99 Z M585.80,220.65 L586.32,221.99 L587.75,222.07 L586.64,222.97 L587.00,224.36 L585.80,223.58 L584.60,224.36 L584.96,222.97 L583.85,222.07 L585.28,221.99 Z M590.90,220.65 L591.42,221.99 L592.85,222.07 L591.74,222.97 L592.10,224.36 L590.90,223.58 L589.70,224.36 L590.06,222.97 L588.95,222.07 L590.38,221.99 Z" fill="#1a1a1a" stroke="#1a1a1a" stroke-width="0.5" stroke-linejoin="round"/>
<path d="M602.65,297.85 L603.17,299.19 L604.60,299.27 L603.49,300.17 L603.85,301.56 L602.65,300.78 L601.45,301.56 L601.81,300.17 L600.70,299.27 L602.13,299.19 Z M607.75,297.85 L608.27,299.19 L609.70,299.27 L608.59,300.17 L608.95,301.56 L607.75,300.78 L606.55,301.56 L606.91,300.17 L605.80,299.27 L607.23,299.19 Z" fill="#1a1a1a" stroke="#1a1a1a" stroke-width="0.5" stroke-linejoin="round"/>
<path d="M620.80,269.25 L621.32,270.59 L622.75,270.67 L621.64,271.57 L622.00,272.96 L620.80,272.18 L619.60,272.96 L619.96,271.57 L618.85,270.67 L620.28,270.59 Z M625.90,269.25 L626.42,270.59 L627.85,270.67 L626.74,271.57 L627.10,272.96 L625.90,272.18 L624.70,272.96 L625.06,271.57 L623.95,270.67 L625.38,270.59 Z M631.00,269.25 L631.52,270.59 L632.95,270.67 L631.84,271.57 L632.20,272.96 L631.00,272.18 L629.80,272.96 L630.16,271.57 L629.05,270.67 L630.48,270.59 Z" fill="#1a1a1a" stroke="#1a1a1a" stroke-width="0.5" stroke-linejoin="round"/>
<path d="M631.55,320.85 L632.07,322.19 L633.50,322.27 L632.39,323.17 L632.75,324.56 L631.55,323.78 L630.35,324.56 L630.71,323.17 L629.60,322.27 L631.03,322.19 Z M636.65,320.85 L637.17,322.19 L638.60,322.27 L637.49,323.17 L637.85,324.56 L636.65,323.78 L635.45,324.56 L635.81,323.17 L634.70,322.27 L636.13,322.19 Z" fill="#1a1a1a" stroke="#1a1a1a" stroke-width="0.5" stroke-linejoin="round"/>
<text x="166.60" y="442.60" font-size="14.2" text-anchor="start" font-style="normal" font-weight="bold" fill="#000" stroke="#000" stroke-width="0" >f</text>
<rect x="192.90" y="437.30" width="305.00" height="24.60" fill="#fff" stroke="#111" stroke-width="1.5" />
<text x="273.00" y="454.30" font-size="12.95" text-anchor="start" font-style="italic" font-weight="normal" fill="#111" stroke="#111" stroke-width="0.22" >Insulin resistance</text>
<line x1="376.80" y1="450.20" x2="388.50" y2="450.20" stroke="#111" stroke-width="1.1" />
<path d="M385.6 447.6 L390.2 450.2 L385.6 452.8" fill="none" stroke="#111" stroke-width="1.1"/>
<text x="394.40" y="454.30" font-size="12.95" text-anchor="start" font-style="italic" font-weight="normal" fill="#111" stroke="#111" stroke-width="0.22" >T2D</text>
<rect x="192.90" y="465.00" width="305.00" height="15.80" fill="#d03c38" stroke="#2a1010" stroke-width="1.1" />
<text x="201.60" y="476.30" font-size="10.15" text-anchor="start" font-style="italic" font-weight="normal" fill="#fff" stroke="#fff" stroke-width="0.22" >New model: Successive defects in insulin action</text>
<text x="278.30" y="493.60" font-size="10.1" text-anchor="middle" font-style="italic" font-weight="normal" fill="#1a1a1a" stroke="#1a1a1a" stroke-width="0.22" >Early hyperinsulinemia:</text>
<text x="278.30" y="505.50" font-size="10.1" text-anchor="middle" font-style="italic" font-weight="normal" fill="#1a1a1a" stroke="#1a1a1a" stroke-width="0.22" >steatosis and</text>
<text x="278.30" y="517.60" font-size="10.1" text-anchor="middle" font-style="italic" font-weight="normal" fill="#1a1a1a" stroke="#1a1a1a" stroke-width="0.22" >postprandial hyperglycaemia</text>
<text x="429.90" y="493.60" font-size="10.1" text-anchor="middle" font-style="italic" font-weight="normal" fill="#1a1a1a" stroke="#1a1a1a" stroke-width="0.22" >Late IR / T2D:</text>
<text x="429.90" y="505.50" font-size="10.1" text-anchor="middle" font-style="italic" font-weight="normal" fill="#1a1a1a" stroke="#1a1a1a" stroke-width="0.22" >fasting hyperglycaemia</text>
<text x="429.90" y="517.20" font-size="10.1" text-anchor="middle" font-style="italic" font-weight="normal" fill="#1a1a1a" stroke="#1a1a1a" stroke-width="0.22" >and hypertriglyceridemia</text>
<path d="M212.0 528.6 L212.0 525.0 L345.7 525.0 L345.7 528.6" fill="none" stroke="#111" stroke-width="1.5"/>
<path d="M367.7 528.6 L367.7 525.0 L497.2 525.0 L497.2 528.6" fill="none" stroke="#111" stroke-width="1.5"/>
<defs>
<linearGradient id="gl" x1="0" x2="1" y1="0" y2="0">
<stop offset="0" stop-color="#ffffff"/><stop offset="0.06" stop-color="#fefbfb"/><stop offset="0.35" stop-color="#f4d5d5"/><stop offset="0.6" stop-color="#ecb9b7"/><stop offset="0.85" stop-color="#e5a2a0"/><stop offset="1" stop-color="#e7a69e"/></linearGradient>
<linearGradient id="gr" x1="0" x2="1" y1="0" y2="0">
<stop offset="0" stop-color="#e6a597"/><stop offset="0.5" stop-color="#ebb69c"/><stop offset="1" stop-color="#f1c9a0"/></linearGradient>
</defs>
<rect x="193.40" y="532.60" width="305.80" height="206.40" fill="#fff" stroke="#a8a8a8" stroke-width="1.5" />
<rect x="194.20" y="533.40" width="151.50" height="204.60" fill="url(#gl)" stroke="none" stroke-width="1.0" />
<rect x="350.50" y="533.40" width="148.00" height="204.60" fill="url(#gr)" stroke="none" stroke-width="1.0" />
<text x="195.00" y="575.50" font-size="8.4" text-anchor="start" font-style="normal" font-weight="normal" fill="#1a1a1a" stroke="#1a1a1a" stroke-width="0.22" >InsR</text>
<line x1="214.10" y1="572.90" x2="223.65" y2="572.90" stroke="#000" stroke-width="3.0"/>
<path d="M217.65 568.10 L224.65 572.90 L217.65 577.70" fill="none" stroke="#000" stroke-width="3.0" stroke-linejoin="miter" stroke-miterlimit="10"/>
<text x="228.90" y="575.50" font-size="8.4" text-anchor="start" font-style="normal" font-weight="normal" fill="#1a1a1a" stroke="#1a1a1a" stroke-width="0.22" >Akt</text>
<line x1="244.00" y1="572.40" x2="252.75" y2="572.40" stroke="#000" stroke-width="3.0"/>
<path d="M246.75 567.60 L253.75 572.40 L246.75 577.20" fill="none" stroke="#000" stroke-width="3.0" stroke-linejoin="miter" stroke-miterlimit="10"/>
<ellipse cx="275.2" cy="572.7" rx="18.4" ry="11.4" fill="#cc2a2e" stroke="#1a0a0a" stroke-width="1.5"/>
<text x="275.40" y="571.20" font-size="8.5" text-anchor="middle" font-style="normal" font-weight="normal" fill="#fff" stroke="#fff" stroke-width="0.22" >FoxOs</text>
<text x="275.40" y="581.30" font-size="8.5" text-anchor="middle" font-style="normal" font-weight="normal" fill="#fff" stroke="#fff" stroke-width="0.22" >off</text>
<line x1="294.70" y1="572.10" x2="302.31" y2="572.10" stroke="#000" stroke-width="3.0"/>
<path d="M296.91 567.80 L303.31 572.10 L296.91 576.40" fill="none" stroke="#000" stroke-width="3.0" stroke-linejoin="miter" stroke-miterlimit="10"/>
<rect x="306.00" y="534.60" width="38.40" height="15.00" fill="#cc2a2e" stroke="#1a0a0a" stroke-width="1.5" />
<text x="325.60" y="544.90" font-size="8.5" text-anchor="middle" font-style="normal" font-weight="normal" fill="#fff" stroke="#fff" stroke-width="0.22" >HGP off</text>
<line x1="325.00" y1="552.00" x2="325.00" y2="565.80" stroke="#000" stroke-width="3.3" />
<line x1="318.60" y1="552.60" x2="331.40" y2="552.60" stroke="#000" stroke-width="3.0" />
<rect x="306.90" y="568.40" width="36.20" height="26.30" fill="#cc2a2e" stroke="#1a0a0a" stroke-width="1.5" />
<text x="327.00" y="577.80" font-size="8.3" text-anchor="middle" font-style="normal" font-weight="normal" fill="#fff" stroke="#fff" stroke-width="0.22" >G6pc</text>
<line x1="315.00" y1="582.00" x2="339.00" y2="582.00" stroke="#fff" stroke-width="1.4" />
<text x="327.30" y="590.50" font-size="8.3" text-anchor="middle" font-style="normal" font-weight="normal" fill="#fff" stroke="#fff" stroke-width="0.22" >Gck</text>
<line x1="311.60" y1="574.50" x2="311.60" y2="586.50" stroke="#fff" stroke-width="1.7" />
<path d="M307.8 585.6 L315.4 585.6 L311.6 593.2 Z" fill="#fff"/>
<line x1="324.40" y1="598.60" x2="324.40" y2="608.65" stroke="#000" stroke-width="3.0"/>
<path d="M319.60 602.65 L324.40 609.65 L329.20 602.65" fill="none" stroke="#000" stroke-width="3.0" stroke-linejoin="miter" stroke-miterlimit="10"/>
<text x="324.30" y="621.50" font-size="8.5" text-anchor="middle" font-style="normal" font-weight="normal" fill="#1a1a1a" stroke="#1a1a1a" stroke-width="0.22" >G-6-P</text>
<line x1="324.40" y1="623.70" x2="324.40" y2="637.85" stroke="#000" stroke-width="3.0"/>
<path d="M319.60 631.85 L324.40 638.85 L329.20 631.85" fill="none" stroke="#000" stroke-width="3.0" stroke-linejoin="miter" stroke-miterlimit="10"/>
<text x="324.40" y="649.70" font-size="8.5" text-anchor="middle" font-style="normal" font-weight="normal" fill="#1a1a1a" stroke="#1a1a1a" stroke-width="0.22" >Pyruvate</text>
<line x1="324.40" y1="652.40" x2="324.40" y2="666.55" stroke="#000" stroke-width="3.0"/>
<path d="M319.60 660.55 L324.40 667.55 L329.20 660.55" fill="none" stroke="#000" stroke-width="3.0" stroke-linejoin="miter" stroke-miterlimit="10"/>
<rect x="304.50" y="674.40" width="38.60" height="14.50" fill="#cc2a2e" stroke="#1a0a0a" stroke-width="1.5" />
<text x="323.80" y="684.90" font-size="8.5" text-anchor="middle" font-style="normal" font-weight="normal" fill="#fff" stroke="#fff" stroke-width="0.22" >DNL on</text>
<text x="391.40" y="542.60" font-size="8.7" text-anchor="middle" font-style="normal" font-weight="normal" fill="#1a1a1a" stroke="#1a1a1a" stroke-width="0.22" >Oxid. stress,</text>
<text x="391.60" y="552.60" font-size="8.7" text-anchor="middle" font-style="normal" font-weight="normal" fill="#1a1a1a" stroke="#1a1a1a" stroke-width="0.22" >high glucagon</text>
<line x1="398.0" y1="557.2" x2="404.6" y2="566.4" stroke="#000" stroke-width="3.0"/>
<path d="M399.6 567.6 L406.6 569.4 L407.6 562.2" fill="none" stroke="#000" stroke-width="3.0" stroke-miterlimit="10"/>
<ellipse cx="426.2" cy="577.6" rx="18.3" ry="11.3" fill="#e69a3c" stroke="#1a0a0a" stroke-width="1.5"/>
<text x="426.20" y="576.80" font-size="8.5" text-anchor="middle" font-style="normal" font-weight="normal" fill="#1a1a1a" stroke="#1a1a1a" stroke-width="0.22" >FoxOs</text>
<text x="426.20" y="586.40" font-size="8.5" text-anchor="middle" font-style="normal" font-weight="normal" fill="#1a1a1a" stroke="#1a1a1a" stroke-width="0.22" >on</text>
<line x1="446.20" y1="578.10" x2="455.55" y2="578.10" stroke="#000" stroke-width="3.0"/>
<path d="M449.55 573.30 L456.55 578.10 L449.55 582.90" fill="none" stroke="#000" stroke-width="3.0" stroke-linejoin="miter" stroke-miterlimit="10"/>
<rect x="458.90" y="534.70" width="38.40" height="15.00" fill="#e69a3c" stroke="#1a0a0a" stroke-width="1.5" />
<text x="478.40" y="544.80" font-size="8.5" text-anchor="middle" font-style="normal" font-weight="normal" fill="#1a1a1a" stroke="#1a1a1a" stroke-width="0.22" >HGP on</text>
<line x1="479.20" y1="570.80" x2="479.20" y2="554.85" stroke="#000" stroke-width="3.0"/>
<path d="M474.40 560.85 L479.20 553.85 L484.00 560.85" fill="none" stroke="#000" stroke-width="3.0" stroke-linejoin="miter" stroke-miterlimit="10"/>
<rect x="461.60" y="570.80" width="35.20" height="26.20" fill="#e69a3c" stroke="#1a0a0a" stroke-width="1.5" />
<text x="481.40" y="581.30" font-size="8.4" text-anchor="middle" font-style="normal" font-weight="normal" fill="#1a1a1a" stroke="#1a1a1a" stroke-width="0.22" >G6pc</text>
<line x1="469.70" y1="584.50" x2="493.20" y2="584.50" stroke="#111" stroke-width="1.4" />
<text x="481.30" y="592.90" font-size="8.4" text-anchor="middle" font-style="normal" font-weight="normal" fill="#1a1a1a" stroke="#1a1a1a" stroke-width="0.22" >Gck</text>
<line x1="465.90" y1="594.00" x2="465.90" y2="580.50" stroke="#000" stroke-width="1.7" />
<path d="M462.0 581.6 L469.8 581.6 L465.9 574.4 Z" fill="#000"/>
<text x="351.40" y="647.30" font-size="8.4" text-anchor="start" font-style="normal" font-weight="normal" fill="#1a1a1a" stroke="#1a1a1a" stroke-width="0.22" >InsR</text>
<line x1="371.00" y1="644.90" x2="380.55" y2="644.90" stroke="#000" stroke-width="3.0"/>
<path d="M374.55 640.10 L381.55 644.90 L374.55 649.70" fill="none" stroke="#000" stroke-width="3.0" stroke-linejoin="miter" stroke-miterlimit="10"/>
<text x="385.60" y="647.30" font-size="8.4" text-anchor="start" font-style="normal" font-weight="normal" fill="#1a1a1a" stroke="#1a1a1a" stroke-width="0.22" >Akt</text>
<line x1="400.80" y1="644.90" x2="410.85" y2="644.90" stroke="#000" stroke-width="3.0"/>
<path d="M404.85 640.10 L411.85 644.90 L404.85 649.70" fill="none" stroke="#000" stroke-width="3.0" stroke-linejoin="miter" stroke-miterlimit="10"/>
<ellipse cx="440.4" cy="643.2" rx="23.3" ry="13.8" fill="#e69a3c" stroke="#1a0a0a" stroke-width="1.5"/>
<text x="440.50" y="642.20" font-size="8.7" text-anchor="middle" font-style="normal" font-weight="normal" fill="#1a1a1a" stroke="#1a1a1a" stroke-width="0.22" >Srebp-1c</text>
<text x="440.50" y="652.70" font-size="8.7" text-anchor="middle" font-style="normal" font-weight="normal" fill="#1a1a1a" stroke="#1a1a1a" stroke-width="0.22" >on</text>
<text x="365.70" y="677.20" font-size="8.7" text-anchor="start" font-style="normal" font-weight="normal" fill="#1a1a1a" stroke="#1a1a1a" stroke-width="0.22" >Glucose</text>
<line x1="400.80" y1="674.60" x2="410.85" y2="674.60" stroke="#000" stroke-width="3.0"/>
<path d="M404.85 669.80 L411.85 674.60 L404.85 679.40" fill="none" stroke="#000" stroke-width="3.0" stroke-linejoin="miter" stroke-miterlimit="10"/>
<ellipse cx="440.6" cy="675.8" rx="22.2" ry="12.9" fill="#e69a3c" stroke="#1a0a0a" stroke-width="1.5"/>
<text x="440.60" y="674.40" font-size="8.7" text-anchor="middle" font-style="normal" font-weight="normal" fill="#1a1a1a" stroke="#1a1a1a" stroke-width="0.22" >Chrebp</text>
<text x="440.60" y="684.60" font-size="8.7" text-anchor="middle" font-style="normal" font-weight="normal" fill="#1a1a1a" stroke="#1a1a1a" stroke-width="0.22" >on</text>
<path d="M464.0 644.7 L482.1 644.7 L482.1 700" fill="none" stroke="#000" stroke-width="2.8"/>
<line x1="462.60" y1="676.10" x2="482.10" y2="676.10" stroke="#000" stroke-width="2.8" />
<line x1="482.10" y1="690.00" x2="482.10" y2="707.75" stroke="#000" stroke-width="3.0"/>
<path d="M477.30 701.75 L482.10 708.75 L486.90 701.75" fill="none" stroke="#000" stroke-width="3.0" stroke-linejoin="miter" stroke-miterlimit="10"/>
<rect x="455.80" y="714.70" width="41.30" height="15.70" fill="#e69a3c" stroke="#1a0a0a" stroke-width="1.5" />
<text x="476.60" y="725.60" font-size="8.7" text-anchor="middle" font-style="normal" font-weight="normal" fill="#1a1a1a" stroke="#1a1a1a" stroke-width="0.22" >DNL on</text>
</svg></body></html>
